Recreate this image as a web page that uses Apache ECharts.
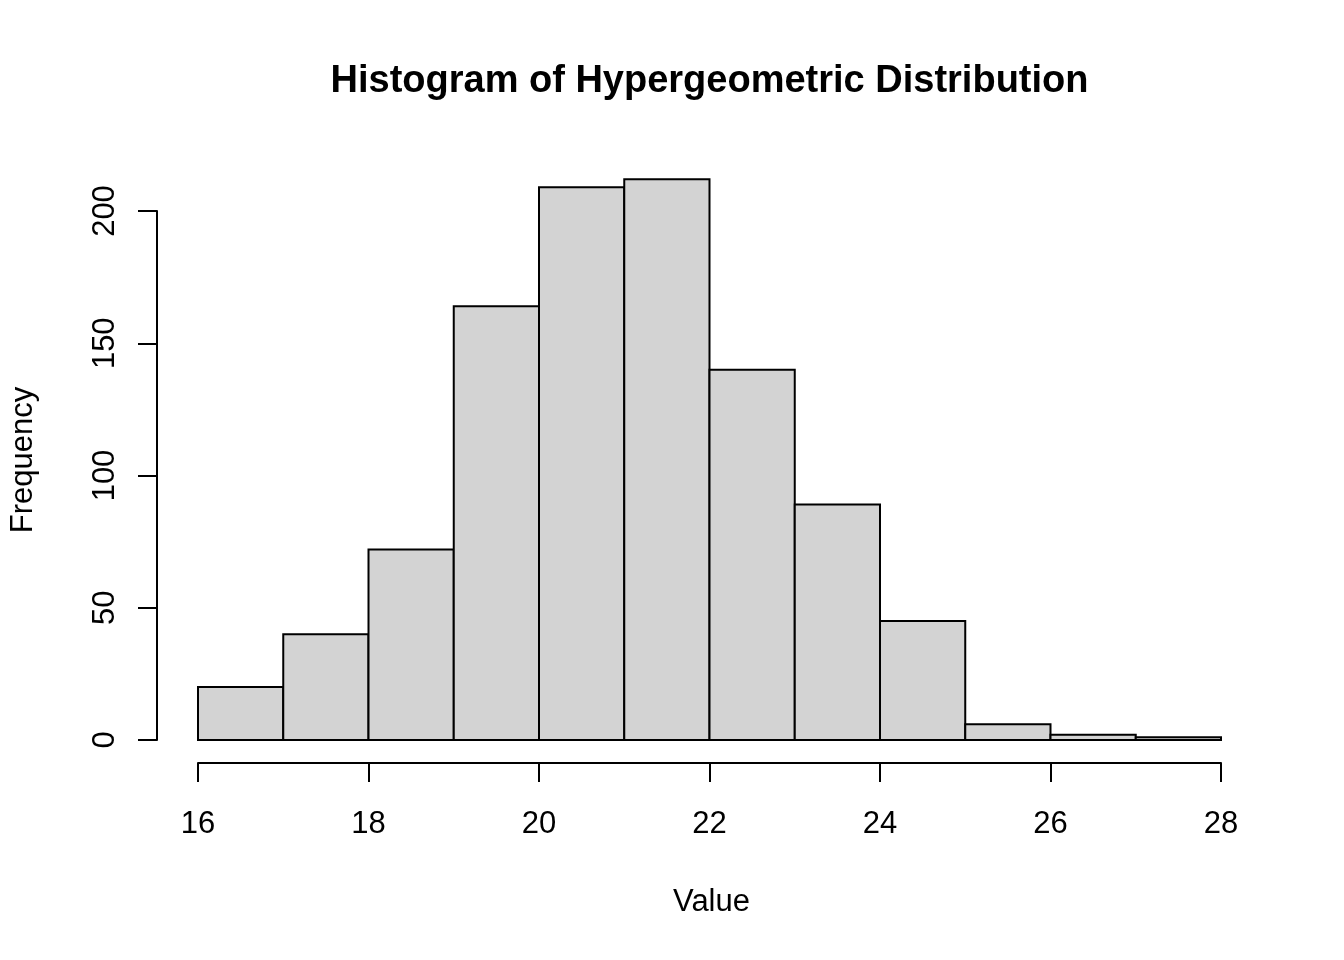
<!DOCTYPE html>
<html>
<head>
<meta charset="utf-8">
<style>
  html, body { margin: 0; padding: 0; background: #fff; }
  #main { width: 1344px; height: 960px; }
</style>
<script src="https://cdn.jsdelivr.net/npm/echarts@6/dist/echarts.min.js"></script>
</head>
<body>
<div id="main"></div>
<script>
// histogram bins (R hist breaks) and counts
var breaks = [16, 17, 18, 19, 20, 21, 22, 23, 24, 25, 26, 27, 28];
var counts = [20, 40, 72, 164, 209, 212, 140, 89, 45, 6, 2, 1];
var titleText = 'Histogram of Hypergeometric Distribution';
var xName = 'Value';
var yName = 'Frequency';

var FONT = 'Liberation Sans, Arial, sans-serif';

var bins = counts.map(function (c, i) {
  return [breaks[i], breaks[i + 1], c];
});

var myChart = echarts.init(document.getElementById('main'));

var axisStyle = { color: '#000', width: 2 };

var option = {
  backgroundColor: '#fff',
  animation: false,
  graphic: [{
    type: 'text',
    x: 709.5,
    y: 82,
    style: {
      text: titleText,
      font: 'bold 38px ' + FONT,
      fill: '#000',
      textAlign: 'center',
      textVerticalAlign: 'middle'
    }
  }],
  grid: [
    // data region: 16..28 by 0..200
    { left: 198, right: 123, top: 211, bottom: 220 },
    // full plot region, only used for the axis titles
    { left: 157, right: 82, top: 157, bottom: 197 }
  ],
  xAxis: [{
    gridIndex: 0,
    type: 'value',
    min: 16,
    max: 28,
    interval: 2,
    offset: 23,
    axisLine: { show: true, onZero: false, lineStyle: axisStyle },
    axisTick: { show: true, length: 19, lineStyle: axisStyle },
    axisLabel: { color: '#000', fontFamily: FONT, fontSize: 31, margin: 46 },
    splitLine: { show: false }
  }, {
    gridIndex: 1,
    type: 'value',
    min: 0,
    max: 1,
    axisLine: { show: false, onZero: false },
    axisTick: { show: false },
    axisLabel: { show: false },
    splitLine: { show: false },
    name: xName,
    nameLocation: 'middle',
    nameGap: 124,
    nameTextStyle: { color: '#000', fontFamily: FONT, fontSize: 31 }
  }],
  yAxis: [{
    gridIndex: 0,
    type: 'value',
    min: 0,
    max: 200,
    interval: 50,
    offset: 41,
    axisLine: { show: true, onZero: false, lineStyle: axisStyle },
    axisTick: { show: true, length: 19, lineStyle: axisStyle },
    axisLabel: { color: '#000', fontFamily: FONT, fontSize: 31, margin: 36, rotate: 90 },
    splitLine: { show: false }
  }, {
    gridIndex: 1,
    type: 'value',
    min: 0,
    max: 1,
    axisLine: { show: false, onZero: false },
    axisTick: { show: false },
    axisLabel: { show: false },
    splitLine: { show: false },
    name: yName,
    nameLocation: 'middle',
    nameGap: 122,
    nameTextStyle: { color: '#000', fontFamily: FONT, fontSize: 31 }
  }],
  series: [{
    type: 'custom',
    xAxisIndex: 0,
    yAxisIndex: 0,
    clip: false,
    encode: { x: [0, 1], y: 2 },
    data: bins,
    renderItem: function (params, api) {
      var p0 = api.coord([api.value(0), 0]);
      var p1 = api.coord([api.value(1), api.value(2)]);
      return {
        type: 'rect',
        shape: { x: p0[0], y: p1[1], width: p1[0] - p0[0], height: p0[1] - p1[1] },
        style: { fill: '#d3d3d3', stroke: '#000', lineWidth: 2 }
      };
    }
  }]
};

myChart.setOption(option);
</script>
</body>
</html>
